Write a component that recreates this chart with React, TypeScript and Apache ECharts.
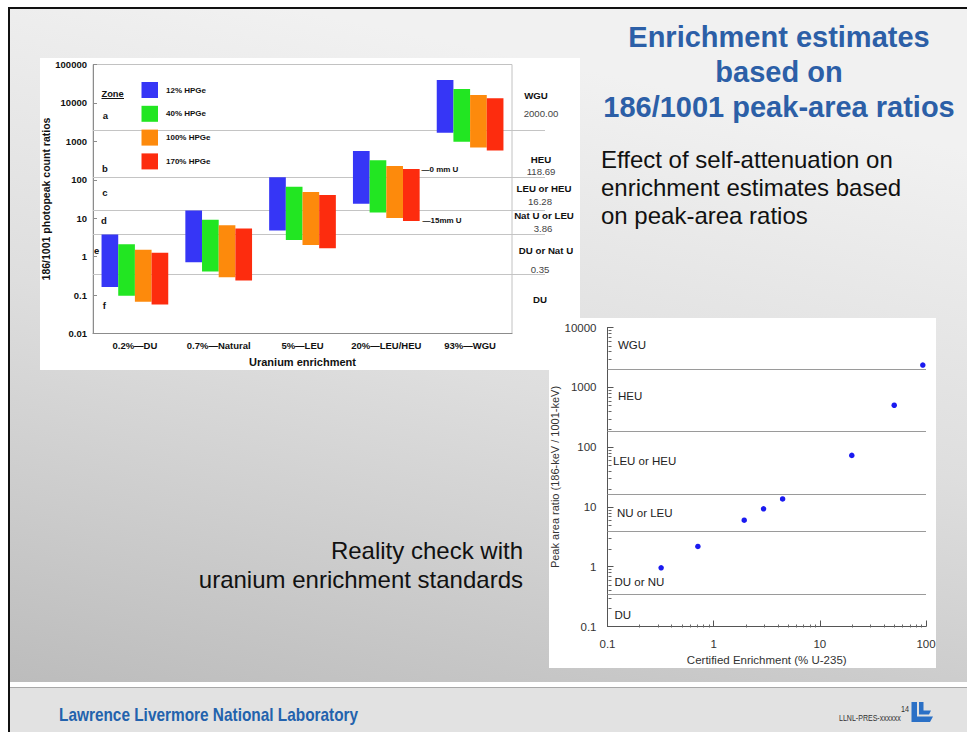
import { useEffect, useRef } from 'react';
import * as echarts from 'echarts';

const FONT = '"Liberation Sans", Arial, Helvetica, sans-serif';

// ---- Left chart: 186/1001 photopeak ratio ranges per detector size ----
const enrichmentGroups = ['0.2%—DU', '0.7%—Natural', '5%—LEU', '20%—LEU/HEU', '93%—WGU'];
const detectorNames = ['12% HPGe', '40% HPGe', '100% HPGe', '170% HPGe'];
const detectorColors = ['#3636f6', '#22e622', '#fd8a0c', '#fd2c0e'];

const hpge12Low = [0.162, 0.71, 4.77, 23.8, 1667];
const hpge12High = [3.75, 15.9, 115.6, 565, 39400];
const hpge40Low = [0.096, 0.41, 2.73, 14.1, 970];
const hpge40High = [2.1, 9.1, 66, 321, 22900];
const hpge100Low = [0.067, 0.29, 2.02, 10.2, 689];
const hpge100High = [1.52, 6.6, 48, 229, 16000];
const hpge170Low = [0.057, 0.24, 1.66, 8.4, 575];
const hpge170High = [1.27, 5.4, 40, 191, 13300];

const zoneBoundaryValues = [2000, 118.69, 16.28, 3.86, 0.35];
const zoneNames = ['WGU', 'HEU', 'LEU or HEU', 'Nat U or LEU', 'DU or Nat U', 'DU'];
const zoneLetters = ['a', 'b', 'c', 'd', 'e', 'f'];

// ---- Right chart: uranium enrichment standards ----
const certifiedEnrichment = [0.32, 0.71, 1.94, 2.95, 4.46, 20.0, 50.2, 93.3];
const peakAreaRatio = [0.96, 2.18, 6.0, 9.3, 13.6, 72.7, 501, 2353];
const standardZoneLines = [2000, 185, 16.28, 3.86, 0.35];
const standardZoneNames = ['WGU', 'HEU', 'LEU or HEU', 'NU or LEU', 'DU or NU', 'DU'];

// decade ticks used for the minor tick marks on the log axes
const minorMultipliers = [2, 3, 4, 5, 6, 7, 8, 9];
const ratioDecades = [0.1, 1, 10, 100, 1000];
const enrichmentDecades = [0.1, 1, 10];

const lows = [hpge12Low, hpge40Low, hpge100Low, hpge170Low];
const highs = [hpge12High, hpge40High, hpge100High, hpge170High];

const logLabel = (v: number) => {
  const e = Math.round(Math.log10(v));
  return e < 0 ? Math.pow(10, e).toFixed(-e) : String(Math.round(Math.pow(10, e)));
};

const txt = (
  text: string,
  x: number,
  y: number,
  font: string,
  fill: string,
  align: string = 'left',
  extra: Record<string, unknown> = {}
) => ({
  type: 'text',
  x,
  y,
  z: 10,
  ...extra,
  style: {
    text,
    font,
    fill,
    textAlign: align,
    align,
    textVerticalAlign: 'middle',
    verticalAlign: 'middle',
  },
});

export default function App() {
  const ref = useRef<HTMLDivElement>(null);

  useEffect(() => {
    if (!ref.current) return;
    const chart = echarts.init(ref.current, undefined, { renderer: 'svg' });

    const barSeries = detectorNames.map((name, i) => ({
      type: 'custom',
      name,
      xAxisIndex: 0,
      yAxisIndex: 0,
      z: 3,
      itemStyle: { color: detectorColors[i] },
      dimensions: ['group', 'low', 'high'],
      encode: { x: 0, y: [1, 2] },
      data: enrichmentGroups.map((_, j) => [j, lows[i][j], highs[i][j]]),
      renderItem: (params: any, api: any) => {
        const cat = api.value(0);
        const top = api.coord([cat, api.value(2)]);
        const bot = api.coord([cat, api.value(1)]);
        const band = params.coordSys.width / enrichmentGroups.length;
        const w = band * 0.199;
        const x = top[0] - 2 * w + i * w;
        return {
          type: 'rect',
          shape: { x, y: top[1], width: w, height: bot[1] - top[1] },
          style: { fill: detectorColors[i] },
        };
      },
    }));

    const zoneLineSeries = {
      type: 'custom',
      xAxisIndex: 0,
      yAxisIndex: 0,
      z: 2,
      silent: true,
      encode: { x: 0, y: 1 },
      data: zoneBoundaryValues.map((v) => [0, v]),
      renderItem: (params: any, api: any) => {
        const p = api.coord([0, api.value(1)]);
        const y = Math.round(p[1]) + 0.5;
        const cs = params.coordSys;
        return {
          type: 'line',
          shape: { x1: cs.x, y1: y, x2: cs.x + cs.width + 33, y2: y },
          style: { stroke: '#c4c4c4', lineWidth: 1 },
        };
      },
    };

    const yMinorValues: number[][] = [];
    ratioDecades.forEach((d) => minorMultipliers.forEach((m) => yMinorValues.push([0.1, m * d])));
    const xMinorValues: number[][] = [];
    enrichmentDecades.forEach((d) => minorMultipliers.forEach((m) => xMinorValues.push([m * d, 0.1])));

    const minorTickSeries = (data: number[][], vertical: boolean) => ({
      type: 'custom',
      xAxisIndex: 1,
      yAxisIndex: 1,
      silent: true,
      z: 3,
      encode: { x: 0, y: 1 },
      data,
      renderItem: (_params: any, api: any) => {
        const p = api.coord([api.value(0), api.value(1)]);
        const x = Math.round(p[0]) + 0.5;
        const y = Math.round(p[1]) + 0.5;
        return {
          type: 'line',
          shape: vertical
            ? { x1: x, y1: y, x2: x, y2: y - 3 }
            : { x1: x, y1: y, x2: x + 3, y2: y },
          style: { stroke: '#666', lineWidth: 1 },
        };
      },
    });

    // fixed label positions for the zone annotations
    const zoneNamePos = [
      [536, 95], [541, 159], [544, 188.7], [544, 215.7], [546, 250], [540, 299],
    ];
    const zoneValuePos = [
      [541, 113.3], [541, 171], [540, 201.7], [543, 228.3], [540, 269],
    ];
    const letterPos = [
      [105.5, 115], [105, 168.3], [105, 192.3], [104, 220], [96.7, 250.7], [104.3, 305],
    ];
    const standardNamePos = [
      [618, 345], [618, 396], [613, 461], [617, 513], [614.5, 582], [614.5, 615],
    ];

    const boldSmall = `bold 9.5px ${FONT}`;

    const graphicElements: any[] = [
      // slide background and frame
      { type: 'rect', z: -5, shape: { x: 0, y: 0, width: 967, height: 732 }, style: { fill: '#ffffff' } },
      {
        type: 'rect',
        z: -5,
        shape: { x: 10, y: 9, width: 957, height: 673 },
        style: {
          fill: {
            type: 'linear', x: 0.3, y: 0, x2: 0, y2: 1,
            colorStops: [
              { offset: 0, color: '#f1f1f1' },
              { offset: 0.45, color: '#dedede' },
              { offset: 1, color: '#bcbcbc' },
            ],
          },
        },
      },
      { type: 'rect', z: -5, shape: { x: 10, y: 682, width: 957, height: 5 }, style: { fill: '#ffffff' } },
      { type: 'rect', z: -5, shape: { x: 10, y: 687, width: 957, height: 45 }, style: { fill: '#e2e2e2' } },
      { type: 'line', z: -5, shape: { x1: 10, y1: 687.5, x2: 967, y2: 687.5 }, style: { stroke: '#a8a8a8', lineWidth: 1 } },
      { type: 'rect', z: -5, shape: { x: 8, y: 7, width: 2, height: 725 }, style: { fill: '#111111' } },
      { type: 'rect', z: -5, shape: { x: 8, y: 7, width: 959, height: 2 }, style: { fill: '#111111' } },

      // white panels behind both charts
      { type: 'rect', z: -4, shape: { x: 40, y: 58, width: 540, height: 312 }, style: { fill: '#ffffff' } },
      { type: 'rect', z: -4, shape: { x: 549, y: 318, width: 387, height: 350 }, style: { fill: '#ffffff' } },

      // title and body text
      txt('Enrichment estimates', 779, 37, `bold 29px ${FONT}`, '#2c5fa7', 'center'),
      txt('based on', 779, 72, `bold 29px ${FONT}`, '#2c5fa7', 'center'),
      txt('186/1001 peak-area ratios', 779, 107, `bold 29px ${FONT}`, '#2c5fa7', 'center'),
      txt('Effect of self-attenuation on', 601, 159, `24px ${FONT}`, '#111111'),
      txt('enrichment estimates based', 601, 187, `24px ${FONT}`, '#111111'),
      txt('on peak-area ratios', 601, 215, `24px ${FONT}`, '#111111'),
      txt('Reality check with', 523, 550, `24px ${FONT}`, '#111111', 'right'),
      txt('uranium enrichment standards', 523, 579, `24px ${FONT}`, '#111111', 'right'),

      // footer
      txt('Lawrence Livermore National Laboratory', 59, 715, `bold 18px ${FONT}`, '#2362ad', 'left', { scaleX: 0.855 }),
      txt('LLNL-PRES-xxxxxx', 839, 718.5, `8.5px ${FONT}`, '#333333', 'left', { scaleX: 0.83 }),
      txt('14', 909, 709, `8.5px ${FONT}`, '#333333', 'right', { scaleX: 0.85 }),
      {
        type: 'polygon', z: 10,
        shape: { points: [[911.5, 702], [917, 702], [917, 716.5], [933, 716.5], [930, 722], [911.5, 722]] },
        style: { fill: '#2b70c6' },
      },
      {
        type: 'polygon', z: 10,
        shape: { points: [[919, 702], [923.5, 702], [923.5, 710.5], [931, 710.5], [929, 714.5], [919, 714.5]] },
        style: { fill: '#2b70c6' },
      },

      // left chart annotations
      txt('Zone', 101.5, 93.5, `bold 9.3px ${FONT}`, '#111111'),
      { type: 'line', z: 10, shape: { x1: 101.5, y1: 98.5, x2: 124, y2: 98.5 }, style: { stroke: '#111111', lineWidth: 1 } },
      txt('—0 mm U', 421.5, 169.3, `bold 8px ${FONT}`, '#111111'),
      txt('—15mm U', 422.5, 220.7, `bold 8px ${FONT}`, '#111111'),
    ];

    zoneLetters.forEach((l, i) =>
      graphicElements.push(txt(l, letterPos[i][0], letterPos[i][1], boldSmall, '#111111', 'center'))
    );
    zoneNames.forEach((n, i) =>
      graphicElements.push(txt(n, zoneNamePos[i][0], zoneNamePos[i][1], `bold 9.7px ${FONT}`, '#111111', 'center'))
    );
    zoneBoundaryValues.forEach((v, i) =>
      graphicElements.push(txt(v.toFixed(2), zoneValuePos[i][0], zoneValuePos[i][1], `9.6px ${FONT}`, '#444444', 'center'))
    );
    standardZoneNames.forEach((n, i) =>
      graphicElements.push(txt(n, standardNamePos[i][0], standardNamePos[i][1], `11.5px ${FONT}`, '#222222'))
    );

    chart.setOption({
      animation: false,
      textStyle: { fontFamily: FONT },
      graphic: { elements: graphicElements },
      legend: {
        data: detectorNames,
        orient: 'vertical',
        left: 141.5,
        top: 82,
        padding: 0,
        itemWidth: 16.5,
        itemHeight: 16,
        itemGap: 7.8,
        icon: 'rect',
        selectedMode: false,
        textStyle: { fontSize: 8, fontWeight: 'bold', color: '#111111', padding: [0, 0, 0, 3] },
      },
      grid: [
        {
          left: 93, top: 64.5, width: 419, height: 269,
          show: true, borderColor: '#c2c2c2', borderWidth: 1, backgroundColor: 'transparent',
        },
        { left: 607.5, top: 327.5, width: 318.5, height: 299 },
      ],
      xAxis: [
        {
          type: 'category',
          gridIndex: 0,
          data: enrichmentGroups,
          boundaryGap: true,
          axisLine: { onZero: false, lineStyle: { color: '#8c8c8c' } },
          axisTick: { inside: true, length: 7, lineStyle: { color: '#8c8c8c' } },
          axisLabel: { interval: 0, hideOverlap: false, fontSize: 9.5, fontWeight: 'bold', color: '#111111', margin: 7 },
          name: 'Uranium enrichment',
          nameLocation: 'middle',
          nameGap: 22.5,
          nameTextStyle: { fontSize: 11, fontWeight: 'bold', color: '#111111' },
        },
        {
          type: 'log',
          gridIndex: 1,
          min: 0.1,
          max: 100,
          logBase: 10,
          axisLine: { onZero: false, lineStyle: { color: '#555555' } },
          axisTick: { inside: true, length: 6, lineStyle: { color: '#555555' } },
          splitLine: { show: false },
          axisLabel: { formatter: logLabel, fontSize: 11.5, color: '#333333', margin: 11 },
          name: 'Certified Enrichment (% U-235)',
          nameLocation: 'middle',
          nameGap: 27,
          nameTextStyle: { fontSize: 11.5, color: '#333333' },
        },
      ],
      yAxis: [
        {
          type: 'log',
          gridIndex: 0,
          min: 0.01,
          max: 100000,
          logBase: 10,
          axisLine: { show: true, onZero: false, lineStyle: { color: '#8c8c8c' } },
          axisTick: { show: true, inside: true, length: 4, lineStyle: { color: '#8c8c8c' } },
          splitLine: { show: false },
          axisLabel: { formatter: logLabel, fontSize: 9.5, fontWeight: 'bold', color: '#111111', margin: 6 },
          name: '186/1001 photopeak count ratios',
          nameLocation: 'middle',
          nameGap: 40,
          nameTextStyle: { fontSize: 10.5, fontWeight: 'bold', color: '#111111' },
        },
        {
          type: 'log',
          gridIndex: 1,
          min: 0.1,
          max: 10000,
          logBase: 10,
          axisLine: { show: true, onZero: false, lineStyle: { color: '#555555' } },
          axisTick: { show: true, inside: true, length: 6, lineStyle: { color: '#555555' } },
          splitLine: { show: false },
          axisLabel: { formatter: logLabel, fontSize: 11.5, color: '#333333', margin: 11 },
          name: 'Peak area ratio (186-keV / 1001-keV)',
          nameLocation: 'middle',
          nameGap: 45,
          nameTextStyle: { fontSize: 11, color: '#333333' },
        },
      ],
      series: [
        zoneLineSeries,
        ...barSeries,
        {
          type: 'scatter',
          xAxisIndex: 1,
          yAxisIndex: 1,
          symbolSize: 5.5,
          itemStyle: { color: '#1a1af0', opacity: 1 },
          z: 4,
          data: certifiedEnrichment.map((x, i) => [x, peakAreaRatio[i]]),
          markLine: {
            silent: true,
            symbol: 'none',
            label: { show: false },
            lineStyle: { color: '#9a9a9a', width: 1, type: 'solid' },
            data: standardZoneLines.map((v) => ({ yAxis: v })),
          },
        },
        minorTickSeries(yMinorValues, false),
        minorTickSeries(xMinorValues, true),
      ],
    });

    return () => chart.dispose();
  }, []);

  return (
    <div
      ref={ref}
      style={{ position: 'absolute', left: 0, top: 0, width: 967, height: 732 }}
    />
  );
}
